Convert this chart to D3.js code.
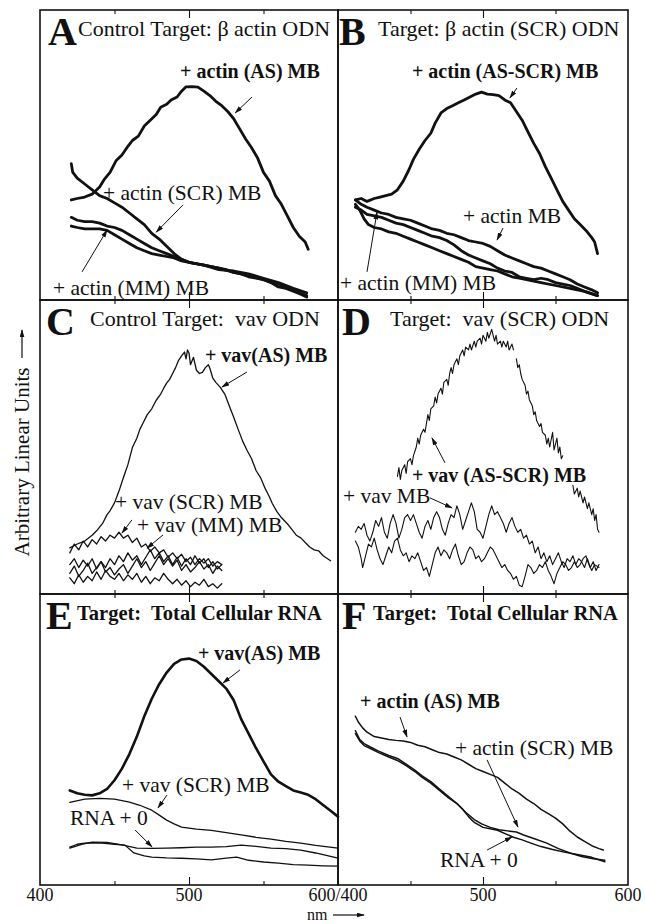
<!DOCTYPE html>
<html>
<head>
<meta charset="utf-8">
<script src="https://cdn.jsdelivr.net/npm/d3@7"></script>
<style>
  body { margin: 0; background: #fff; }
  svg text { font-family: "Liberation Serif", "DejaVu Serif", serif; fill: #111; white-space: pre; }
</style>
</head>
<body>
<svg id="fig" width="645" height="924"></svg>
<script>
// spectra: [wavelength nm, arbitrary units 0-100 of panel height]
var aActinAS = [[421,34.5],[425,35],[430,35.5],[435,36.5],[440,39],[443,41.5],[447,44],[451,48],[455,50],[459,53],[462,55],[466,56.5],[470,60],[474,62],[478,64],[481,66.5],[485,67.5],[488,69],[492,70],[495,72],[498,73.5],[502,73.6],[506,73.4],[510,72],[514,70.5],[518,68.5],[522,67],[526,65],[530,62.5],[534,59],[538,55.5],[542,52.5],[546,49],[550,44],[554,41],[558,36],[562,33],[566,29],[570,25],[574,22],[578,20],[580,17.5]];
var aActinSCR = [[421,47],[422,44],[425,42],[430,40],[435,38],[440,36],[445,35],[450,33.5],[455,32],[460,30],[465,28],[470,26],[475,23],[480,21],[485,18.5],[490,16],[495,14],[500,13],[505,12.5],[510,12],[515,11.5],[520,11],[525,10.5],[530,9.5],[535,9],[540,8],[545,7.5],[550,7],[555,6],[560,4.5],[565,4],[570,3],[575,2],[579,1]];
var aActinMM1 = [[421,28.5],[425,27.5],[430,27],[435,27],[440,26.5],[445,25.5],[450,25],[455,24],[460,22.5],[465,21],[470,19.5],[475,18],[480,17],[485,16],[490,15],[495,14],[500,13],[505,12.5],[510,12],[515,11.5],[520,11],[530,9.5],[540,8.5],[550,7],[560,5.5],[570,3.5],[579,1.5]];
var aActinMM2 = [[421,25.5],[425,25],[430,24.5],[435,24.5],[440,24.5],[445,24],[450,22.5],[455,21],[460,19.5],[465,18],[470,17],[475,16],[480,15.5],[485,15],[490,14.5],[495,13.5],[500,13],[510,12],[520,10.5],[530,10],[540,9],[550,7.5],[560,6],[570,4],[579,2.5]];

var bActinASSCR = [[412,34.5],[416,35],[420,34],[425,35],[429,35.5],[433,36],[437,36.5],[441,38],[445,41],[449,45],[452,48.5],[456,52],[460,55],[464,57.5],[467,61],[471,64.5],[475,66],[479,67],[483,68],[487,69],[491,70],[495,71],[499,71.7],[503,71],[507,70.8],[511,70.5],[515,69],[519,68],[523,65],[527,62],[531,58],[535,54],[539,50.5],[543,46],[547,42],[551,38],[555,34],[559,31],[563,28],[567,26],[571,24],[575,21.5],[577,20],[579,16]];
var bActinMB = [[412,34.5],[416,33],[420,32],[425,31],[430,30],[435,29.5],[440,28.5],[445,28],[450,27.5],[455,26.5],[460,25.5],[465,24.5],[470,24],[475,23],[480,22.5],[485,21.5],[490,20.5],[495,20],[500,19.5],[505,18.5],[510,17],[515,15.5],[520,14.5],[525,13.5],[530,12.5],[535,11.5],[540,11],[545,10],[550,9],[555,8],[560,7],[565,5.5],[570,4.5],[575,3.5],[579,2.5]];
var bActinMM1 = [[412,33],[415,31],[418,28],[421,26],[425,25],[430,24.5],[435,23.5],[440,23],[445,22],[450,21],[455,20],[460,19],[465,18],[470,17],[475,16],[480,15],[485,14],[490,13],[495,11.5],[500,11],[505,10.5],[510,10],[515,9],[520,8],[525,7.5],[530,7],[540,6],[550,5],[560,4],[570,3],[579,1.5]];
var bActinMM2 = [[412,32],[416,31],[420,29.5],[425,29],[430,28.5],[435,27.5],[440,26.5],[445,26],[450,25],[455,24],[460,23],[465,22],[470,21.5],[475,20.5],[480,19],[485,17],[490,15.5],[495,14.5],[500,13.5],[505,12.5],[510,11],[515,10],[520,9.5],[525,8],[530,7.5],[535,7],[540,7.5],[545,7],[550,6],[555,5.5],[560,5],[565,4],[570,3],[579,1.5]];

var cVavAS = [[420,15.7],[425,17],[430,18],[435,20],[438,21.5],[442,24],[445,27],[447,28.3],[450,31],[453,35],[456,39.6],[459,44],[462,49.8],[465,53],[467,56],[469,58],[472,61],[475,63],[478,65.9],[481,68],[483,70],[485,71.7],[487,73],[489,75],[491,77],[493,79.5],[495,81],[497,82.3],[498,80],[499,83],[500,82],[501,78],[503,80.5],[505,76.1],[507,75],[509,75.4],[511,77],[513,78],[514,76.8],[516,73.4],[518,72],[521,70.3],[524,68],[527,64],[530,60.1],[533,56],[536,52],[539,48.8],[542,46],[545,42],[548,39.6],[551,36],[554,33],[556,30.7],[559,28],[562,26],[566,23.9],[569,22],[572,20],[575,19.1],[578,17.5],[581,16],[584,15],[587,14.7],[590,13],[593,12],[595,11.3]];
var cVavSCR = [[420,14],[423,17],[426,15],[429,18],[432,16],[435,18.5],[438,17],[441,19.5],[444,18],[447,20],[450,19],[453,21],[456,19],[459,20],[462,17.5],[465,19],[468,16],[471,17],[474,14.5],[477,16],[480,14],[483,15],[486,12.5],[489,14],[492,12],[495,13.5],[498,11],[501,12.5],[504,10],[507,12],[510,10.5],[513,12],[516,9.5],[519,11],[522,10]];
var cVavMM = [[420,10],[423,12],[426,9],[429,11.5],[432,9.5],[435,12],[438,8.5],[441,11],[444,9],[447,12],[450,10],[453,13],[456,11],[459,14],[462,11.5],[465,13],[468,10],[471,12.5],[474,15],[477,12],[480,14],[483,11],[486,13],[489,10],[492,12.5],[495,9.5],[498,12],[501,10],[504,13],[507,10.5],[510,12],[513,9],[516,11],[519,8.5],[522,10]];
var cVavMB = [[420,7],[423,9.5],[426,6],[429,8],[432,10.5],[435,7],[438,9],[441,11],[444,7.5],[447,9],[450,6.5],[453,8.5],[456,10],[459,7],[462,9.5],[465,12],[468,9],[471,11],[474,8],[477,10.5],[480,13],[483,10],[486,12],[489,9.5],[492,11.5],[495,8],[498,10],[501,7.5],[504,9],[507,11],[510,8.5],[513,10],[516,7],[519,9.5],[522,8]];
var cVav0 = [[420,5.5],[423,3.5],[426,6.5],[429,4],[432,6],[435,4.5],[438,7.5],[441,5],[444,8],[447,6],[450,5],[453,7],[456,4.5],[459,6.5],[462,5],[465,7],[468,4],[471,6],[474,3.5],[477,5.5],[480,4.5],[483,7],[486,5],[489,3.5],[492,5],[495,3],[498,4.5],[501,2.5],[504,4],[507,3],[510,5],[513,2.5],[516,3.5],[519,2],[522,3.5]];

// null = gap in the trace
var dVavASSCR = [[441,40],[442,43],[443,39],[444,42],[446,44],[447,41],[448,45],[450,46],[451,44],[452,47],[454,50],[455,53],[456,51],[457,54],[459,56],[460,55],[461,58],[462,61],[463,59],[464,63],[466,64],[467,67],[468,65],[469,68],[471,70],[472,68],[473,72],[475,73],[476,71],[477,75],[478,77],[479,75],[480,78],[482,80],[483,78],[484,81],[486,83],[487,81],[488,84],[490,83],[491,85],[492,83],[494,86],[495,84],[496,86],[498,87],[499,85],[500,88],[502,86],[503,89],[504,87],[506,90],[507,88],[508,86],[509,88],[510,85],[512,86],[513,84],[514,86],[516,84],[517,86],[518,83],[520,85],[521,83],null,[523,80],[524,77],[525,78],[526,75],[527,73],[529,71],[530,68],[531,69],[532,66],[534,64],[535,61],[536,62],[537,59],[539,57],[540,58],[541,55],[543,54],[544,51],[545,53],[546,50],[548,55],[549,49],[550,51],[551,53],[552,48],[553,50],[554,46],[555,47],null,[562,37],[563,34],[565,36],[566,33],[567,35],[569,31],[570,33],[572,29],[573,31],[575,27],[576,29],[577,25],[578,27],[579,22],[580,21]];
var dVavMB = [[412,21],[414,23],[416,22],[418,24],[420,20],[422,18],[424,21],[426,25],[428,23],[430,26],[432,21],[434,19],[436,24],[438,27],[440,24],[442,19],[444,22],[446,26],[448,27],[450,25],[452,27],[454,24],[456,21],[458,19],[460,23],[462,25],[464,22],[466,26],[468,28],[470,26],[472,22],[474,20],[476,24],[478,27],[480,26],[482,30],[484,27],[486,22],[488,25],[490,28],[492,31],[494,28],[496,22],[498,21],[500,19],[502,23],[504,27],[506,30],[508,27],[510,28],[512,26],[514,24],[516,21],[518,24],[520,26],[522,23],[524,21],[526,22],[528,19],[530,20],[532,17],[534,18],[536,14],[538,16],[540,12],[542,14],[544,11],[546,13],[548,10],[550,12],[552,14],[554,11],[556,9],[558,12],[560,11],[562,13],[564,10],[566,12],[568,11],[570,9],[572,12],[574,9],[576,11],[578,8],[580,10]];
var dVav0 = [[412,18],[414,16],[416,12],[417,9],[419,13],[421,17],[423,16],[425,19],[427,15],[429,12],[431,10],[433,13],[435,16],[437,14],[439,18],[441,19],[443,15],[445,13],[447,14],[449,11],[451,13],[453,12],[455,14],[457,11],[459,8],[461,9],[463,6],[465,10],[467,14],[469,16],[471,13],[473,15],[475,14],[477,12],[479,15],[481,17],[483,13],[485,10],[487,11],[489,14],[491,16],[493,15],[495,12],[497,13],[499,11],[501,12],[503,14],[505,16],[507,15],[509,13],[511,11],[513,9],[515,10],[517,8],[519,7],[521,5],[523,6],[525,3],[527,2.5],[529,6],[531,10],[533,9],[535,7],[537,8],[539,10],[541,9],[543,11],[545,8],[547,6],[549,3.5],[551,7],[553,9],[555,11],[557,10],[559,8],[561,9],[563,11],[565,9],[567,10],[569,12],[571,13],[573,10],[575,8],[577,10],[580,9]];

var eVavAS = [[420,32.5],[425,31.5],[430,31],[435,30.8],[440,31.5],[445,33],[450,36],[455,40],[460,45],[465,51],[470,58],[475,64],[480,69],[485,73],[490,76],[495,77.5],[500,77.8],[505,77],[510,75],[515,72.5],[520,70],[525,67.5],[530,63.5],[535,57],[540,52],[545,47],[550,42.5],[555,38],[560,35.5],[565,34],[570,32.5],[575,31.8],[580,31],[585,29.5],[590,27.5],[595,25.5],[600,23.5]];
var eVavSCR = [[420,28.4],[430,29.5],[440,29.8],[450,29.5],[460,28.5],[467,27.4],[475,25.7],[480,24],[485,22.3],[490,21],[495,19.9],[505,19.2],[515,18.8],[525,18],[535,17.2],[545,16.4],[555,15.8],[565,15],[575,14.4],[585,13.6],[600,12.7]];
var eRNA1 = [[420,13],[425,14],[430,14.4],[440,14.5],[450,14],[457,13.7],[463,11],[470,10],[475,9.6],[485,9.3],[495,9.2],[505,9],[515,8.6],[525,9.2],[532,9.6],[540,8.5],[550,7.9],[560,7.5],[570,7],[580,6.8],[590,6.6],[600,6.5]];
var eRNA2 = [[420,12.7],[428,14],[435,14.7],[445,14.6],[455,13.8],[465,12.7],[475,12.6],[485,12.7],[495,12.8],[505,13],[515,13],[525,13.2],[535,13.7],[545,13.3],[555,12.7],[565,12.5],[575,12],[585,11],[595,9.8],[600,9.2]];

var fActinAS = [[412,58],[414,56],[417,54],[420,52.5],[425,51],[430,50.5],[435,50],[440,49.7],[445,49.5],[450,49],[455,48],[460,47.5],[465,46.5],[470,45.5],[475,45],[480,44],[485,43],[490,41.5],[495,40],[500,39],[505,38],[510,37],[515,35],[520,33],[525,31.5],[530,29.5],[535,28],[540,26],[545,24.5],[550,23],[555,21],[560,18.5],[565,16.5],[570,15],[575,13.5],[580,12.5],[583,12]];
var fActinSCR = [[412,53],[415,50],[418,48.6],[422,47.5],[428,46],[435,44.5],[441,43.5],[447,41.5],[453,39.5],[458,37.5],[464,35.5],[470,33],[476,30.5],[482,28],[488,25],[494,22.5],[499,21],[505,19.8],[511,19],[517,18.6],[523,18.2],[528,17.2],[535,16],[544,14.4],[552,12.5],[560,11],[568,9.8],[576,9],[584,8.5]];
var fRNA = [[412,52],[415,49.5],[418,47.9],[422,47],[428,45.5],[435,44],[441,42.8],[447,41],[453,39],[458,37],[464,35],[470,32.5],[476,30],[482,28],[486,26],[490,23.5],[494,21.5],[500,19.8],[510,18.8],[516,17.5],[521,16.4],[527,15.5],[533,14.4],[540,13.2],[548,12.2],[556,11.3],[565,10.5],[575,9.5],[584,8]];

var tickLabels = [[0, 400, "400"], [0, 500, "500"], [0, 600, "600/400"], [1, 500, "500"], [1, 600, "600"]];

// frame layout
var colX = [40, 338, 628];
var rowY = [10, 300, 594, 885];

var panels = [
  { letter: "A", title: "Control Target: β actin ODN", bold: false, col: 0, row: 0, ldx: 8, tdx: 38, lw: 2.8,
    series: [aActinAS, aActinSCR, aActinMM1, aActinMM2],
    notes: [
      { text: "+ actin (AS) MB", bold: true, at: [494, 76.6], arrow: [[542.3, 70], [531, 64.5]] },
      { text: "+ actin (SCR) MB", at: [442.3, 34.5], arrow: [[496, 32.8], [478, 23.4]] },
      { text: "+ actin (MM) MB", at: [408.7, 1.7], arrow: [[428.2, 9.7], [445, 24.1]] }
    ] },
  { letter: "B", title: "Target: β actin (SCR) ODN", bold: false, col: 1, row: 0, ldx: 1, tdx: 40, lw: 2.8,
    series: [bActinASSCR, bActinMB, bActinMM1, bActinMM2],
    notes: [
      { text: "+ actin (AS-SCR) MB", bold: true, at: [451, 76.6], arrow: [[523.4, 73.1], [518.6, 69.7]] },
      { text: "+ actin MB", at: [486.2, 26.6], arrow: [[513.8, 24.8], [509.7, 20.7]] },
      { text: "+ actin (MM) MB", at: [401.4, 3.4], arrow: [[420, 9.7], [426.9, 30.3]] }
    ] },
  { letter: "C", title: "Control Target:  vav ODN", bold: false, col: 0, row: 1, ldx: 6, tdx: 50, lw: 1.3,
    series: [cVavAS, cVavSCR, cVavMM, cVavMB, cVav0],
    notes: [
      { text: "+ vav(AS) MB", bold: true, at: [510.7, 78.9], arrow: [[538.9, 75.5], [522.1, 70.4]] },
      { text: "+ vav (SCR) MB", at: [450.3, 28.9], arrow: [[461.7, 25.2], [455, 20.7]] },
      { text: "+ vav (MM) MB", at: [465.1, 21.1], arrow: [[482.6, 20.1], [471.8, 15.6]] }
    ] },
  { letter: "D", title: "Target:  vav (SCR) ODN", bold: false, col: 1, row: 1, ldx: 4, tdx: 52, lw: 1.1,
    series: [dVavASSCR, dVavMB, dVav0],
    notes: [
      { text: "+ vav (AS-SCR) MB", bold: true, at: [451, 38.1], arrow: [[473.8, 44.6], [464.8, 53.1]] },
      { text: "+ vav MB", at: [403.4, 31], arrow: [[463.4, 32.7], [478.6, 29.3]] }
    ] },
  { letter: "E", title: "Target:  Total Cellular RNA", bold: true, col: 0, row: 2, ldx: 6, tdx: 37, lw: 1.3,
    series: [eVavAS, eVavSCR, eRNA1, eRNA2], heavy: [2.6],
    notes: [
      { text: "+ vav(AS) MB", bold: true, at: [506, 77.3], arrow: [[534.2, 73.9], [522.8, 69.4]] },
      { text: "+ vav (SCR) MB", at: [455, 32], arrow: [[485.2, 30.9], [479.2, 26.5]] },
      { text: "RNA + 0", at: [420.1, 20.6], arrow: [[463.8, 18.9], [475.2, 13.1]] }
    ] },
  { letter: "F", title: "Target:  Total Cellular RNA", bold: true, col: 1, row: 2, ldx: 4, tdx: 35, lw: 1.5,
    series: [fActinAS, fActinSCR, fRNA],
    notes: [
      { text: "+ actin (AS) MB", bold: true, at: [415.2, 60.8], arrow: [[442.8, 57.7], [447.6, 50.9]] },
      { text: "+ actin (SCR) MB", at: [480.7, 44.7], arrow: [[502.8, 43], [524.1, 19.9]] },
      { text: "RNA + 0", at: [470.3, 6.2], arrow: [[502.8, 12], [520, 16.5]] }
    ] }
];

var svg = d3.select("#fig");

svg.append("defs").append("marker")
  .attr("id", "head")
  .attr("viewBox", "0 0 10 6")
  .attr("refX", 9).attr("refY", 3)
  .attr("markerWidth", 8).attr("markerHeight", 5)
  .attr("markerUnits", "userSpaceOnUse")
  .attr("orient", "auto")
  .append("path").attr("d", "M0,0 L10,3 L0,6 Z").attr("fill", "#111");

panels.forEach(function (p) {
  var x = d3.scaleLinear().domain([400, 600]).range([colX[p.col], colX[p.col + 1]]);
  var y = d3.scaleLinear().domain([0, 100]).range([rowY[p.row + 1], rowY[p.row]]);
  var g = svg.append("g");

  // frame
  g.append("rect")
    .attr("x", x(400)).attr("y", y(100))
    .attr("width", x(600) - x(400)).attr("height", y(0) - y(100))
    .attr("fill", "none").attr("stroke", "#111").attr("stroke-width", 1.6);

  // ticks on top and bottom edges
  [[d3.axisTop, y(0)], [d3.axisBottom, y(100)]].forEach(function (a) {
    var minor = a[0](x).tickValues([450, 550]).tickSize(4).tickFormat("");
    var major = a[0](x).tickValues([500]).tickSize(8).tickFormat("");
    [minor, major].forEach(function (ax) {
      var t = g.append("g").attr("transform", "translate(0," + a[1] + ")").call(ax);
      t.select(".domain").remove();
      t.selectAll("line").attr("stroke", "#111").attr("stroke-width", 1.1);
    });
  });

  var line = d3.line()
    .defined(function (d) { return d != null; })
    .x(function (d) { return x(d[0]); })
    .y(function (d) { return y(d[1]); });

  p.series.forEach(function (s, i) {
    var w = (p.heavy && p.heavy[i]) ? p.heavy[i] : p.lw;
    g.append("path")
      .attr("d", line(s))
      .attr("fill", "none")
      .attr("stroke", "#111")
      .attr("stroke-width", w)
      .attr("stroke-linejoin", "round")
      .attr("stroke-linecap", "round");
  });

  g.append("text")
    .attr("x", x(400) + p.ldx).attr("y", y(100) + 35)
    .attr("font-size", 40).attr("font-weight", "bold")
    .text(p.letter);
  g.append("text")
    .attr("x", x(400) + p.tdx).attr("y", y(100) + 26)
    .attr("font-size", p.bold ? 20.5 : 22).attr("font-weight", p.bold ? "bold" : "normal")
    .text(p.title);

  p.notes.forEach(function (n) {
    g.append("text")
      .attr("x", x(n.at[0])).attr("y", y(n.at[1]))
      .attr("font-size", n.bold ? 20 : 21.5).attr("font-weight", n.bold ? "bold" : "normal")
      .text(n.text);
    if (n.arrow) {
      g.append("line")
        .attr("x1", x(n.arrow[0][0])).attr("y1", y(n.arrow[0][1]))
        .attr("x2", x(n.arrow[1][0])).attr("y2", y(n.arrow[1][1]))
        .attr("stroke", "#111").attr("stroke-width", 1)
        .attr("marker-end", "url(#head)");
    }
  });
});

// bottom wavelength labels
tickLabels.forEach(function (t) {
  var x = d3.scaleLinear().domain([400, 600]).range([colX[t[0]], colX[t[0] + 1]]);
  svg.append("text")
    .attr("x", x(t[1])).attr("y", 901)
    .attr("text-anchor", "middle").attr("font-size", 18)
    .text(t[2]);
});

svg.append("text").attr("x", 307).attr("y", 920).attr("font-size", 16).text("nm");
svg.append("line").attr("x1", 333).attr("y1", 915).attr("x2", 364).attr("y2", 915)
  .attr("stroke", "#111").attr("stroke-width", 1.2).attr("marker-end", "url(#head)");

// y axis label
svg.append("text")
  .attr("transform", "translate(29,462) rotate(-90)")
  .attr("text-anchor", "middle").attr("font-size", 21)
  .text("Arbitrary Linear Units");
svg.append("line").attr("x1", 22).attr("y1", 358).attr("x2", 22).attr("y2", 330)
  .attr("stroke", "#111").attr("stroke-width", 1.2).attr("marker-end", "url(#head)");
</script>
</body>
</html>
